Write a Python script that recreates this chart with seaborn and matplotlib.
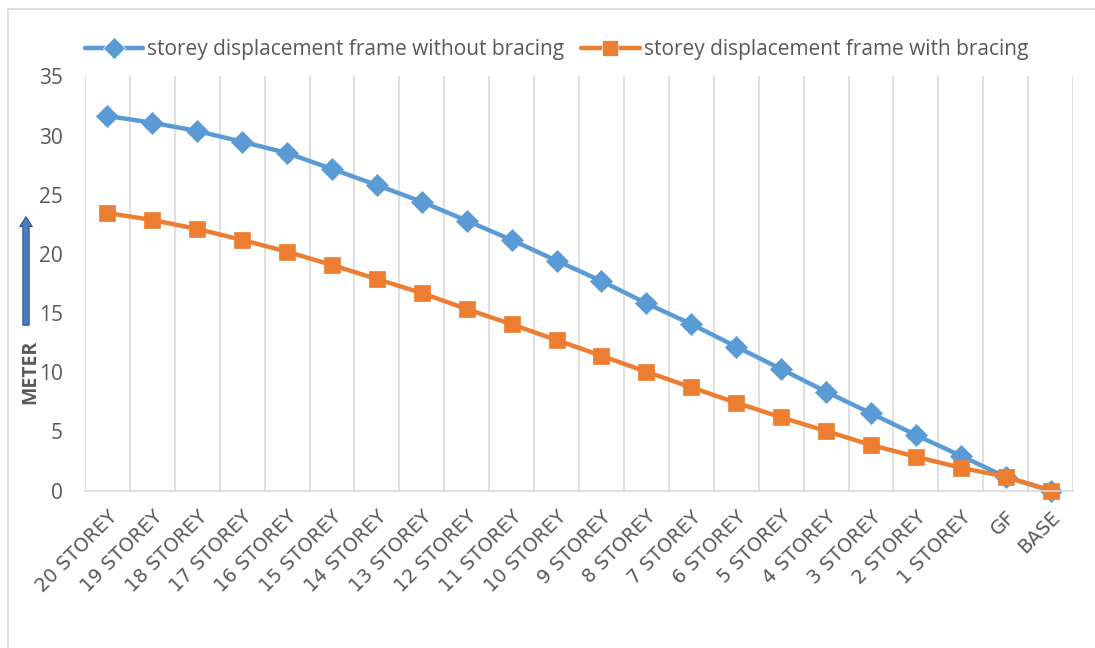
import numpy as np
import pandas as pd
import seaborn as sns
import matplotlib.pyplot as plt
from matplotlib.patches import Rectangle

# Data
storeys = ['20 STOREY', '19 STOREY', '18 STOREY', '17 STOREY', '16 STOREY', '15 STOREY',
           '14 STOREY', '13 STOREY', '12 STOREY', '11 STOREY', '10 STOREY', '9 STOREY',
           '8 STOREY', '7 STOREY', '6 STOREY', '5 STOREY', '4 STOREY', '3 STOREY',
           '2 STOREY', '1 STOREY', 'GF', 'BASE']
without_bracing = [31.66, 31.09, 30.39, 29.48, 28.53, 27.18, 25.82, 24.41, 22.81, 21.18,
                   19.43, 17.71, 15.82, 14.07, 12.16, 10.27, 8.35, 6.53, 4.69, 2.94, 1.14, 0.0]
with_bracing = [23.46, 22.87, 22.11, 21.18, 20.19, 19.06, 17.88, 16.69, 15.34, 14.05,
                12.72, 11.39, 10.04, 8.72, 7.42, 6.19, 5.03, 3.85, 2.86, 1.93, 1.17, 0.0]
series_names = ['storey displacement frame without bracing',
                'storey displacement frame with bracing']

sns.set_style('white')
plt.rcParams['font.family'] = ['Open Sans', 'DejaVu Sans']

grey_text = '#595959'
grid_col = '#D9D9D9'
blue = '#5B9BD5'
orange = '#ED7D31'

pos = np.arange(len(storeys))
df = pd.DataFrame({
    'pos': np.concatenate([pos, pos]),
    'value': without_bracing + with_bracing,
    'series': [series_names[0]] * len(storeys) + [series_names[1]] * len(storeys),
})

fig = plt.figure(figsize=(10.95, 6.48), dpi=100)
ax = fig.add_axes([0.0776, 0.243, 0.9024, 0.639])

sns.lineplot(data=df, x='pos', y='value', hue='series', style='series',
             palette=[blue, orange], markers=['D', 's'], dashes=False,
             linewidth=3.2, markersize=11, markeredgewidth=0.5, sort=False, ax=ax)
for line, mc in zip(ax.lines, [blue, orange]):
    line.set_markeredgecolor(mc)
    line.set_clip_on(False)
ax.lines[1].set_markersize(12)

ax.set_xlim(-0.5, len(storeys) - 0.5)
ax.set_ylim(0, 35)
ax.set_yticks(range(0, 36, 5))
ax.set_xticks(pos)
ax.set_xticklabels(storeys, rotation=45, ha='right', va='top', rotation_mode='anchor',
                   family=['DejaVu Sans'])
ax.set_xticks(np.arange(-0.5, len(storeys)), minor=True)
ax.grid(False)
ax.grid(True, which='minor', axis='x', color=grid_col, linewidth=1.2)
ax.tick_params(axis='both', which='both', length=0)
ax.tick_params(axis='y', labelsize=15, labelcolor=grey_text, pad=16)
ax.tick_params(axis='x', labelsize=13.8, labelcolor=grey_text, pad=12)
for s in ['top', 'right', 'left']:
    ax.spines[s].set_visible(False)
ax.spines['bottom'].set_color(grid_col)
ax.spines['bottom'].set_linewidth(1.2)
ax.set_xlabel('')
ax.set_ylabel('')

# Legend across the top
leg = ax.legend(loc='lower left', bbox_to_anchor=(0.0, 1.04), ncol=2, frameon=False,
                fontsize=15, handlelength=2.8, columnspacing=0.8, handletextpad=0.2,
                borderaxespad=0, borderpad=0)
for t in leg.get_texts():
    t.set_color(grey_text)

# Y label with arrow
fig.text(30 / 1095, 1 - 372 / 648, 'METER', rotation=90, ha='center', va='center',
         fontsize=14, fontweight='bold', color=grey_text)
ax.annotate('', xy=(26 / 1095, 1 - 214 / 648), xytext=(26 / 1095, 1 - 328 / 648),
            xycoords='figure fraction', textcoords='figure fraction',
            arrowprops=dict(arrowstyle='simple,head_width=0.9,head_length=0.7,tail_width=0.45',
                            fc='#4A7EBB', ec='#2F5597', lw=0.8))

# Chart area border
fig.patches.append(Rectangle((8 / 1095, -0.1), 1.2, 1 - 9 / 648 + 0.1,
                             transform=fig.transFigure, fill=False,
                             edgecolor=grid_col, linewidth=1.2))

fig.savefig('out.png', dpi=100)
